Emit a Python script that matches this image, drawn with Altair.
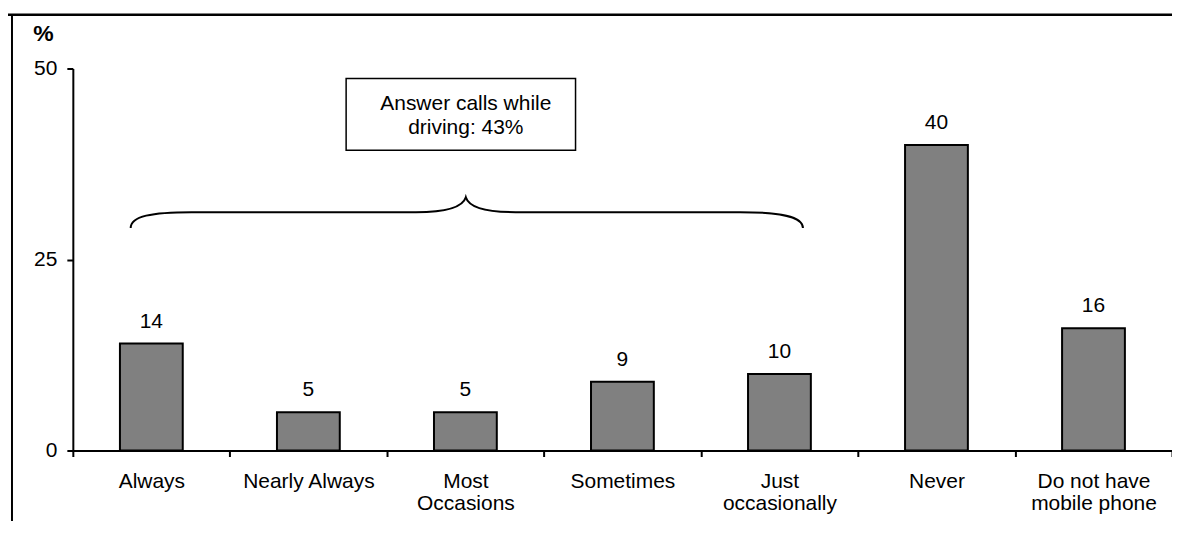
import altair as alt
import pandas as pd

categories = ["Always", "Nearly Always", "Most\nOccasions", "Sometimes",
              "Just\noccasionally", "Never", "Do not have\nmobile phone"]
values = [14, 5, 5, 9, 10, 40, 16]
y_ticks = [0, 25, 50]
box_text = "Answer calls while\ndriving: 43%"
y_title = "%"

df = pd.DataFrame({"cat": categories, "val": values})
one = pd.DataFrame({"t": [box_text]})

FONT = "Liberation Sans"
FS = 21

x_enc = alt.X(
    "cat:N", sort=categories,
    scale=alt.Scale(paddingInner=0, paddingOuter=0),
    axis=alt.Axis(title=None, labelAngle=0, labelExpr="split(datum.label, '\\n')",
                  tickBand="extent", tickSize=6, labelPadding=14, labelLineHeight=22,
                  labelOverlap=False, labelLimit=0, labelBaseline="top"),
)
y_enc = alt.Y(
    "val:Q", scale=alt.Scale(domain=[0, 50], nice=False),
    axis=alt.Axis(values=y_ticks, title=y_title, titleAngle=0, titleFontWeight="bold",
                  titleX=-30, titleY=-28, titleAlign="center", titleBaseline="alphabetic",
                  titleFontSize=23, titleFont=FONT, titleColor="black",
                  tickSize=6, labelPadding=10),
)

bars = alt.Chart(df).mark_bar(
    width=alt.RelativeBandSize(0.4), color="#808080", stroke="black", strokeWidth=2
).encode(x=x_enc, y=y_enc)

labels = alt.Chart(df).mark_text(
    dy=-16, baseline="alphabetic", font=FONT, fontSize=FS, color="black"
).encode(x=alt.X("cat:N", sort=categories), y="val:Q", text="val:Q")

box = alt.Chart(one).mark_rect(
    fill="white", stroke="black", strokeWidth=1.5
).encode(x=alt.value(274), x2=alt.value(504), y=alt.value(10), y2=alt.value(82))

box_label = alt.Chart(one).mark_text(
    lineBreak="\n", lineHeight=24, baseline="alphabetic", align="center",
    font=FONT, fontSize=FS, color="black"
).encode(x=alt.value(394), y=alt.value(42), text="t:N")

brace_path = ("M -336 16 C -336 4 -315 0 -275 0 L -50 0 C -20 0 -3 -5 0 -15 "
              "C 3 -5 20 0 50 0 L 275 0 C 315 0 338 4 338 16")
brace = alt.Chart(one).mark_point(
    shape=brace_path, size=4, filled=False, stroke="black", strokeWidth=2, opacity=1
).encode(x=alt.value(394), y=alt.value(144))

frame_top = alt.Chart(one).mark_rule(color="black", strokeWidth=2.5).encode(
    x=alt.value(-65), x2=alt.value(1102), y=alt.value(-54))
frame_left = alt.Chart(one).mark_rule(color="black", strokeWidth=2).encode(
    x=alt.value(-61), y=alt.value(-54), y2=alt.value(470))

chart = alt.layer(frame_top, frame_left, bars, labels, box, box_label, brace).properties(
    width=1102, height=383, autosize="none",
    padding={"left": 65, "top": 60, "right": 0, "bottom": 70},
).configure_view(stroke=None).configure_axis(
    grid=False, domainColor="black", domainWidth=2, tickColor="black", tickWidth=2,
    labelColor="black", labelFont=FONT, labelFontSize=FS,
)

chart.save("out.html", embed_options={"renderer": "svg", "actions": False})
